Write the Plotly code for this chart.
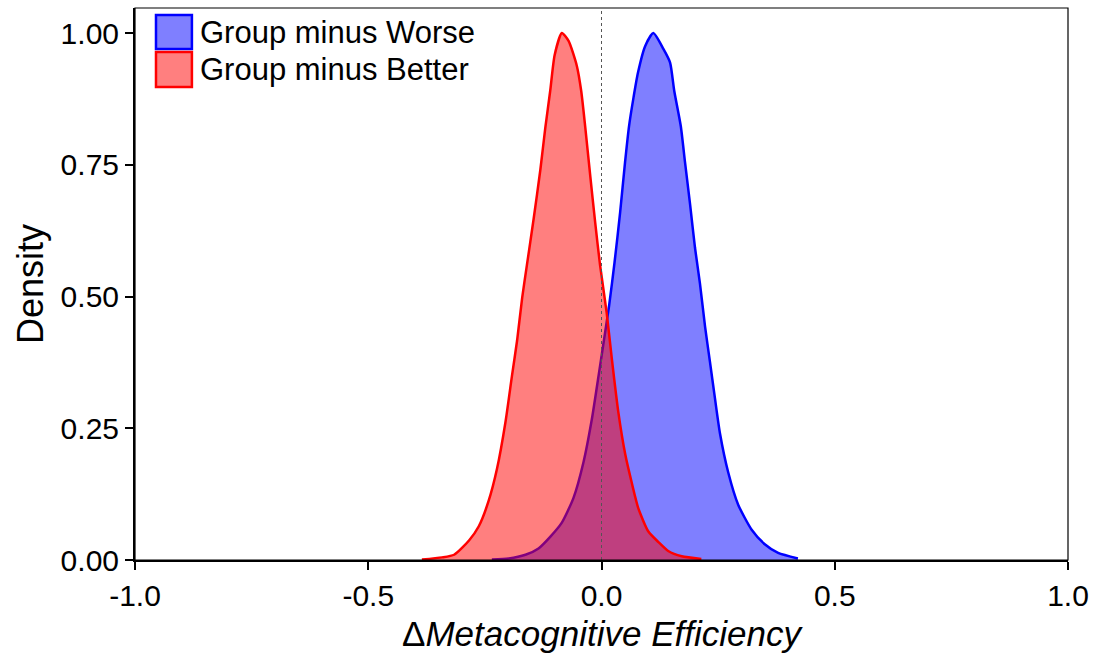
import plotly.graph_objects as go

# Posterior density of the difference in metacognitive efficiency (normalised to peak 1)
worse_x = [-0.235, -0.199, -0.163, -0.135, -0.11, -0.085, -0.060, -0.0385, -0.0207, -0.0064,
           0.004, 0.0165, 0.028, 0.040, 0.0505, 0.059, 0.0685, 0.078, 0.0935, 0.111,
           0.1326, 0.147, 0.156, 0.170, 0.179, 0.190, 0.2005, 0.211, 0.222, 0.2325,
           0.243, 0.254, 0.2717, 0.293, 0.3215, 0.350, 0.3786, 0.421]
worse_d = [0.001, 0.003, 0.010, 0.022, 0.044, 0.071, 0.118, 0.186, 0.267, 0.349,
           0.41, 0.484, 0.565, 0.66, 0.755, 0.823, 0.877, 0.924, 0.975, 1.0,
           0.97, 0.944, 0.89, 0.823, 0.755, 0.674, 0.592, 0.525, 0.443, 0.376,
           0.308, 0.24, 0.166, 0.105, 0.058, 0.030, 0.0135, 0.003]

better_x = [-0.385, -0.342, -0.316, -0.284, -0.263, -0.242, -0.224, -0.206, -0.192, -0.181,
            -0.170, -0.160, -0.1455, -0.131, -0.1205, -0.110, -0.1005, -0.085, -0.0706, -0.053,
            -0.0435, -0.035, -0.024, -0.0135, -0.003, 0.011, 0.022, 0.036, 0.051, 0.065,
            0.079, 0.1005, 0.122, 0.143, 0.172, 0.214]
better_d = [0.001, 0.005, 0.010, 0.037, 0.064, 0.112, 0.173, 0.261, 0.349, 0.416,
            0.498, 0.559, 0.647, 0.741, 0.82, 0.89, 0.958, 1.0, 0.985, 0.938,
            0.89, 0.823, 0.728, 0.64, 0.559, 0.47, 0.383, 0.281, 0.20, 0.146,
            0.098, 0.054, 0.034, 0.017, 0.007, 0.002]

series_names = ["Group minus Worse", "Group minus Better"]
series_lines = ["rgb(0,0,255)", "rgb(255,0,0)"]
series_fills = ["rgba(0,0,255,0.5)", "rgba(255,0,0,0.5)"]

x_ticks = [-1.0, -0.5, 0.0, 0.5, 1.0]
x_ticktext = ["-1.0", "-0.5", "0.0", "0.5", "1.0"]
y_ticks = [0.0, 0.25, 0.5, 0.75, 1.0]
y_ticktext = ["0.00", "0.25", "0.50", "0.75", "1.00"]

font_family = "Liberation Sans, Arial, sans-serif"

fig = go.Figure()
for xs, ds, name, lc, fc in zip([worse_x, better_x], [worse_d, better_d],
                                series_names, series_lines, series_fills):
    fig.add_trace(go.Scatter(
        x=xs, y=ds, name=name, mode="lines", showlegend=False,
        line=dict(color=lc, width=2.5, shape="spline", smoothing=0.6),
        fill="tozeroy", fillcolor=fc,
    ))

# dotted reference line at zero difference
fig.add_shape(type="line", x0=0, x1=0, y0=0, y1=1, yref="paper",
              line=dict(color="#555", width=1, dash="dot"), layer="above")
# thin frame around the plotting area
fig.add_shape(type="rect", xref="paper", yref="paper", x0=0, x1=1, y0=0, y1=1,
              line=dict(color="black", width=1.2), layer="above")

# legend drawn as filled keys with labels in the upper-left corner
key_rows = [(0.9257, 0.9873), (0.8569, 0.9203)]
for (y0, y1), name, lc, fc in zip(key_rows, series_names, series_lines, series_fills):
    fig.add_shape(type="rect", xref="paper", yref="paper", x0=0.0225, x1=0.061,
                  y0=y0, y1=y1, fillcolor=fc, line=dict(color=lc, width=2.5),
                  layer="above")
    fig.add_annotation(xref="paper", yref="paper", x=0.067, y=(y0 + y1) / 2,
                       xanchor="left", yanchor="middle", text=name, showarrow=False,
                       font=dict(size=31, color="black", family=font_family))

fig.update_layout(
    width=1097, height=659,
    margin=dict(l=135, r=27, t=8, b=99),
    paper_bgcolor="white", plot_bgcolor="white",
    font=dict(family=font_family, size=22, color="black"),
    showlegend=False,
    xaxis=dict(range=[-1, 1], tickvals=x_ticks, ticktext=x_ticktext,
               showgrid=False, zeroline=False, showline=True, linecolor="black",
               linewidth=2, ticks="outside", ticklen=8, tickwidth=2, tickcolor="black",
               tickfont=dict(size=30),
               title=dict(text="Δ<i>Metacognitive Efficiency</i>", font=dict(size=35),
                          standoff=10)),
    yaxis=dict(range=[0, 1.0475], tickvals=y_ticks, ticktext=y_ticktext,
               showgrid=False, zeroline=False, showline=True, linecolor="black",
               linewidth=2, ticks="outside", ticklen=8, tickwidth=2, tickcolor="black",
               tickfont=dict(size=30),
               title=dict(text="Density", font=dict(size=36), standoff=6)),
)

fig.write_html("out.html")
